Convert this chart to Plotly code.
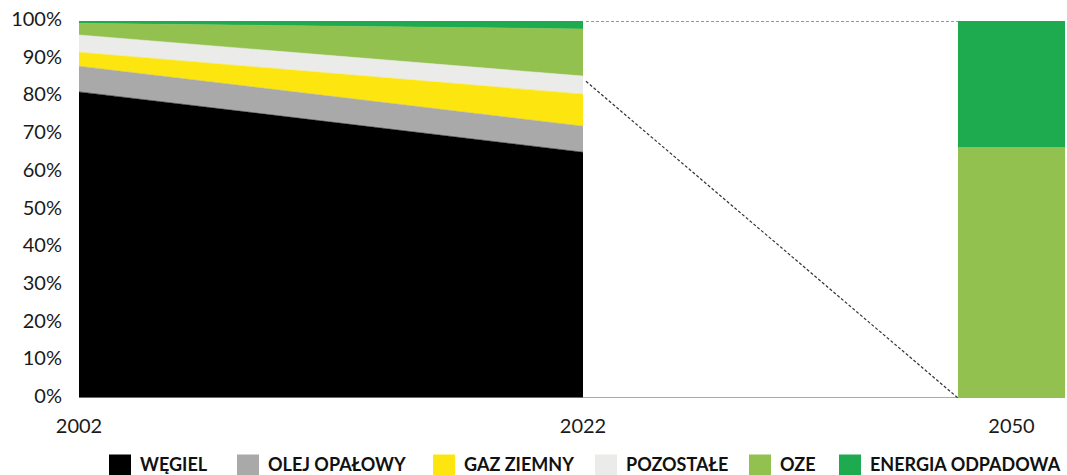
import plotly.graph_objects as go

# --- data -------------------------------------------------------------
years = [2002, 2022]
series_names = ["WĘGIEL", "OLEJ OPAŁOWY", "GAZ ZIEMNY", "POZOSTAŁE", "OZE", "ENERGIA ODPADOWA"]
wegiel = [81.2, 65.2]
olej_opalowy = [6.8, 6.9]
gaz_ziemny = [3.7, 8.5]
pozostale = [4.6, 4.8]
oze = [3.1, 12.5]
energia_odpadowa = [0.6, 2.1]

target_year = ["2050"]
oze_2050 = [66.6]
energia_odpadowa_2050 = [33.4]

y_ticks = [0, 10, 20, 30, 40, 50, 60, 70, 80, 90, 100]
y_tick_labels = [f"{v}%" for v in y_ticks]

# --- style ------------------------------------------------------------
colors = ["#000000", "#A9A9A9", "#FDE60F", "#EBEBE9", "#92C14F", "#1EAA4F"]
FONT = "Lato"
W, H = 1067, 475
ML, MR, MT, MB = 79, 2, 21, 77
PW = W - ML - MR
PH = H - MT - MB


def px_x(px):
    return (px - ML) / PW


def px_y(py):
    return (H - MB - py) / PH


area_right = px_x(583)
bar_left = px_x(958)

fig = go.Figure()

area_values = [wegiel, olej_opalowy, gaz_ziemny, pozostale, oze, energia_odpadowa]
for name, vals, col in zip(series_names, area_values, colors):
    fig.add_trace(go.Scatter(
        x=years, y=vals, name=name, mode="lines",
        stackgroup="mix", line=dict(width=0.5, color=col),
        fillcolor=col, showlegend=False, hoverinfo="x+y+name",
        xaxis="x", yaxis="y",
    ))

for name, vals, col in [(series_names[4], oze_2050, colors[4]),
                        (series_names[5], energia_odpadowa_2050, colors[5])]:
    fig.add_trace(go.Bar(
        x=target_year, y=vals, name=name, marker=dict(color=col, line=dict(width=0)),
        showlegend=False, xaxis="x2", yaxis="y",
    ))

shapes = [
    # baseline
    dict(type="line", xref="paper", yref="y", x0=0, x1=bar_left, y0=0, y1=0,
         line=dict(color="#8C8C8C", width=1.5), layer="above"),
    # connector lines toward the 2050 column
    dict(type="line", xref="paper", yref="y", x0=px_x(586), x1=bar_left, y0=100, y1=100,
         line=dict(color="#333333", width=1.2, dash="3px,2px")),
    dict(type="line", xref="paper", yref="y", x0=px_x(586), x1=bar_left, y0=84, y1=0,
         line=dict(color="#333333", width=1.2, dash="3px,2px")),
]

# custom legend with large square keys
legend_key_px = [109, 237, 433, 595, 749, 839]
KEY = 22
annotations = []
for name, col, kx in zip(series_names, colors, legend_key_px):
    shapes.append(dict(type="rect", xref="paper", yref="paper",
                       x0=px_x(kx), x1=px_x(kx + KEY), y0=px_y(476), y1=px_y(454.5),
                       fillcolor=col, line=dict(width=0)))
    annotations.append(dict(xref="paper", yref="paper", x=px_x(kx + 29.5), y=px_y(464.5),
                            text=f"<b>{name}</b>", showarrow=False, xanchor="left",
                            yanchor="middle", xshift=-1,
                            font=dict(family=FONT, size=18, color="#111111")))

fig.update_layout(
    width=W, height=H,
    margin=dict(l=ML, r=MR, t=MT, b=MB, autoexpand=False),
    paper_bgcolor="white", plot_bgcolor="white",
    barmode="stack", bargap=0,
    font=dict(family=FONT, size=20, color="#1A1A1A"),
    xaxis=dict(domain=[0, area_right], range=[2002, 2022], tickvals=years,
               ticktext=[str(y) for y in years], showgrid=False, zeroline=False,
               showline=False, ticks="", ticklabelstandoff=14, anchor="y"),
    xaxis2=dict(domain=[bar_left, 1], type="category", range=[-0.5, 0.5],
                showgrid=False, zeroline=False, showline=False, ticks="",
                ticklabelstandoff=14, anchor="y"),
    yaxis=dict(range=[0, 100], tickvals=y_ticks, ticktext=y_tick_labels, showgrid=False,
               zeroline=False, showline=False, ticks="", ticklabelstandoff=16,
               ticklabelshift=-2),
    shapes=shapes,
    annotations=annotations,
    showlegend=False,
)

fig.write_html("out.html")
